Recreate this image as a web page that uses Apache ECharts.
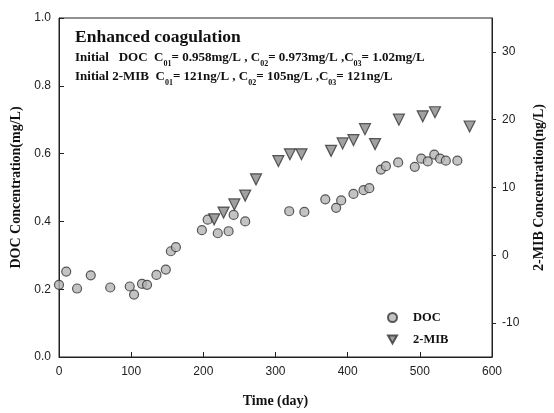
<!DOCTYPE html>
<html>
<head>
<meta charset="utf-8">
<script src="https://cdn.jsdelivr.net/npm/echarts@6/dist/echarts.min.js"></script>
<style>
  html, body { margin: 0; padding: 0; background: #fff; }
  #chart { width: 554px; height: 413px; }
</style>
</head>
<body>
<div id="chart"></div>
<script>
// DOC residual concentration (mg/L) vs operating time (day)
const docDays = [0, 10, 25, 44, 71, 98, 104, 115, 122, 135, 148, 155, 162,
  198, 206, 220, 235, 242, 258, 319, 340,
  369, 384, 391, 408, 422, 430, 446, 453, 470,
  493, 502, 511, 520, 528, 536, 552];
const docValues = [0.213, 0.252, 0.202, 0.241, 0.205, 0.208, 0.184, 0.216, 0.213, 0.242, 0.258, 0.312, 0.324,
  0.374, 0.405, 0.365, 0.371, 0.419, 0.400, 0.430, 0.428,
  0.465, 0.440, 0.462, 0.481, 0.492, 0.498, 0.553, 0.563, 0.574,
  0.561, 0.585, 0.577, 0.597, 0.585, 0.579, 0.579];

// 2-MIB residual concentration (ng/L) vs operating time (day)
const mibDays = [215, 228, 243, 258, 273, 304, 320, 336, 377, 393, 408, 424, 438, 471, 504, 521, 569];
const mibValues = [5.3, 6.3, 7.5, 8.8, 11.2, 13.9, 14.9, 14.9, 15.4, 16.5, 17.0, 18.6, 16.4, 20.0, 20.5, 21.1, 19.0];

// Axis ticks
const xTicks = [0, 100, 200, 300, 400, 500, 600];
const docTicks = [0.0, 0.2, 0.4, 0.6, 0.8, 1.0];
const mibTicks = [-10, 0, 10, 20, 30];

const serif = 'Liberation Serif';
const sans = 'Liberation Sans';

// downward-pointing triangle used for the 2-MIB legend entry
const downTriangle = 'path://M0,0 L10,0 L5,9 Z';

const chart = echarts.init(document.getElementById('chart'), null, { renderer: 'canvas' });

const subStyle = { fontFamily: serif, fontWeight: 'bold', fontSize: 8, verticalAlign: 'bottom', padding: [0, 0, -4, 0] };
const lineStyle = { fontFamily: serif, fontWeight: 'bold', fontSize: 13 };

chart.setOption({
  animation: false,
  backgroundColor: '#fff',
  grid: { left: 59, right: 57, top: 18, bottom: 55, show: true, borderColor: '#222', borderWidth: 1 },
  legend: {
    orient: 'vertical',
    left: 382,
    top: 306,
    itemWidth: 9,
    itemHeight: 9,
    itemGap: 9,
    textStyle: { fontFamily: serif, fontWeight: 'bold', fontSize: 12.5, color: '#111', padding: [0, 0, 0, 11] },
    data: [{ name: 'DOC', icon: 'circle' }, { name: '2-MIB', icon: downTriangle }]
  },
  xAxis: {
    type: 'value',
    min: 0, max: 600, interval: 100,
    name: 'Time (day)',
    nameLocation: 'middle',
    nameGap: 37,
    nameTextStyle: { fontFamily: serif, fontWeight: 'bold', fontSize: 14, color: '#111' },
    axisLine: { lineStyle: { color: '#222' } },
    axisTick: { inside: true, length: 5, lineStyle: { color: '#222' } },
    axisLabel: { fontFamily: sans, fontSize: 12, color: '#222', margin: 9,
      customValues: xTicks },
    splitLine: { show: false }
  },
  yAxis: [{
    type: 'value',
    min: 0, max: 1, interval: 0.2,
    name: 'DOC Concentration(mg/L)',
    nameLocation: 'middle',
    nameGap: 36,
    nameTextStyle: { fontFamily: serif, fontWeight: 'bold', fontSize: 14, color: '#111' },
    axisLine: { show: true, lineStyle: { color: '#222' } },
    axisTick: { inside: true, length: 5, lineStyle: { color: '#222' } },
    axisLabel: { fontFamily: sans, fontSize: 12, color: '#222', margin: 8,
      customValues: docTicks,
      formatter: v => v.toFixed(1) },
    splitLine: { show: false }
  }, {
    type: 'value',
    min: -15, max: 35,
    position: 'right',
    name: '2-MIB Concentration(ng/L)',
    nameLocation: 'middle',
    nameGap: 40,
    nameRotate: 90,
    nameTextStyle: { fontFamily: serif, fontWeight: 'bold', fontSize: 14, color: '#111' },
    axisLine: { show: true, lineStyle: { color: '#222' } },
    axisTick: { show: true, length: 4, customValues: mibTicks, lineStyle: { color: '#222' } },
    axisLabel: { fontFamily: sans, fontSize: 12, color: '#222', margin: 10,
      customValues: mibTicks },
    splitLine: { show: false }
  }],
  series: [{
    name: 'DOC',
    type: 'scatter',
    yAxisIndex: 0,
    symbol: 'circle',
    symbolSize: 9,
    itemStyle: { color: '#b4b4b4', borderColor: '#333', borderWidth: 1.2 },
    data: docDays.map((d, i) => [d, docValues[i]])
  }, {
    name: '2-MIB',
    type: 'scatter',
    yAxisIndex: 1,
    symbol: 'triangle',
    symbolRotate: 180,
    symbolSize: 11,
    itemStyle: { color: '#8a8a8a', borderColor: '#333', borderWidth: 1.2 },
    data: mibDays.map((d, i) => [d, mibValues[i]])
  }],
  graphic: [{
    type: 'text',
    left: 75, top: 28,
    style: { text: 'Enhanced coagulation', fontFamily: serif, fontWeight: 'bold', fontSize: 17.5, fill: '#111' }
  }, {
    type: 'text',
    left: 75, top: 51,
    style: {
      text: '{t|Initial   DOC  C}{s|01}{t|= 0.958mg/L , C}{s|02}{t|= 0.973mg/L ,C}{s|03}{t|= 1.02mg/L}',
      rich: { t: lineStyle, s: subStyle },
      fill: '#111'
    }
  }, {
    type: 'text',
    left: 75, top: 70,
    style: {
      text: '{t|Initial 2-MIB  C}{s|01}{t|= 121ng/L , C}{s|02}{t|= 105ng/L ,C}{s|03}{t|= 121ng/L}',
      rich: { t: lineStyle, s: subStyle },
      fill: '#111'
    }
  }]
});
</script>
</body>
</html>
